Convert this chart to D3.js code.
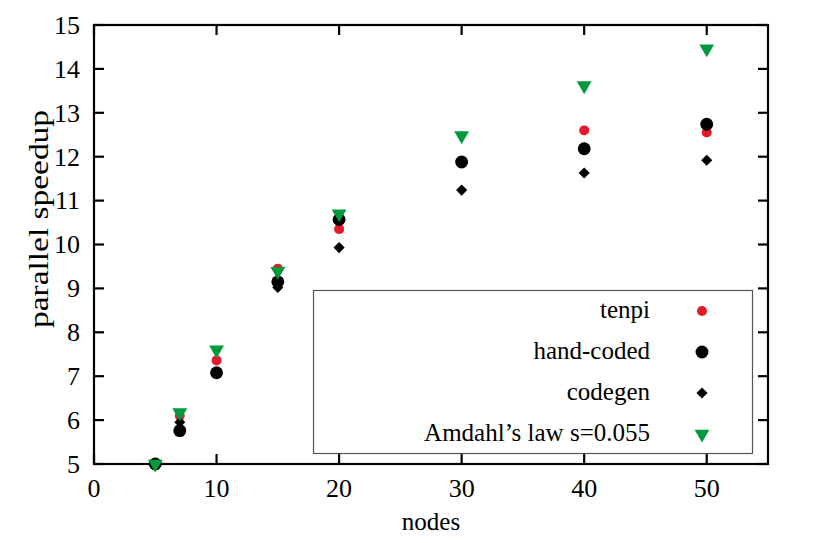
<!DOCTYPE html>
<html>
<head>
<meta charset="utf-8">
<script src="https://cdn.jsdelivr.net/npm/d3@7"></script>
<style>
  body { margin: 0; background: #fff; }
  svg text { font-family: "Liberation Serif", "Times New Roman", serif; fill: #000; }
</style>
</head>
<body>
<svg id="chart" width="814" height="543"></svg>
<script>
// data
var nodes = [5, 7, 10, 15, 20, 30, 40, 50]
var tenpi = [5.0, 6.10, 7.36, 9.45, 10.35, 11.88, 12.60, 12.55]
var handCoded = [5.0, 5.76, 7.08, 9.15, 10.57, 11.88, 12.18, 12.74]
var codegen = [5.0, 5.95, 7.05, 9.02, 9.93, 11.24, 11.63, 11.92]
var amdahl = [5.0, 6.17, 7.60, 9.39, 10.70, 12.48, 13.62, 14.46]
var xTicks = [0, 10, 20, 30, 40, 50]
var yTicks = [5, 6, 7, 8, 9, 10, 11, 12, 13, 14, 15]

var series = [
  { name: 'tenpi', values: tenpi, shape: 'circle', size: 78, color: '#e8192c' },
  { name: 'hand-coded', values: handCoded, shape: 'circle', size: 130, color: '#000' },
  { name: 'codegen', values: codegen, shape: 'diamond', size: 62, color: '#000' },
  { name: 'Amdahl\u2019s law s=0.055', values: amdahl, shape: 'triangle', size: 95, color: '#009a3d' }
]

var margin = { left: 94, right: 46, top: 25, bottom: 79 }
var width = 814, height = 543
var fs = 25
var svg = d3.select('#chart')

var x = d3.scaleLinear().domain([0, 55]).range([margin.left, width - margin.right])
var y = d3.scaleLinear().domain([5, 15]).range([height - margin.bottom, margin.top])

function symbolFor(s) {
  if (s.shape === 'circle') return d3.symbol().type(d3.symbolCircle).size(s.size)
  if (s.shape === 'diamond') return d3.symbol().type(d3.symbolSquare).size(s.size)
  // downward triangle
  return d3.symbol().type(d3.symbolTriangle).size(s.size)
}
function rot(s) {
  if (s.shape === 'diamond') return ' rotate(45)'
  if (s.shape === 'triangle') return ' rotate(180)'
  return ''
}

// axes, ticks mirrored like gnuplot
var tickLen = 10
var axis = svg.append('g').attr('stroke', '#000').attr('stroke-width', 2.2)
axis.append('rect')
  .attr('x', x(0)).attr('y', y(15))
  .attr('width', x(55) - x(0)).attr('height', y(5) - y(15))
  .attr('fill', 'none')

xTicks.forEach(function(t) {
  axis.append('line').attr('x1', x(t)).attr('x2', x(t)).attr('y1', y(5)).attr('y2', y(5) - tickLen)
  axis.append('line').attr('x1', x(t)).attr('x2', x(t)).attr('y1', y(15)).attr('y2', y(15) + tickLen)
})
yTicks.forEach(function(t) {
  axis.append('line').attr('x1', x(0)).attr('x2', x(0) + tickLen).attr('y1', y(t)).attr('y2', y(t))
  axis.append('line').attr('x1', x(55)).attr('x2', x(55) - tickLen).attr('y1', y(t)).attr('y2', y(t))
})

svg.append('g').selectAll('text').data(xTicks).join('text')
  .attr('x', function(d) { return x(d) }).attr('y', y(5) + 33)
  .attr('text-anchor', 'middle').attr('font-size', 26)
  .text(function(d) { return d })

svg.append('g').selectAll('text').data(yTicks).join('text')
  .attr('x', x(0) - 14).attr('y', function(d) { return y(d) + 8.8 })
  .attr('text-anchor', 'end').attr('font-size', 26)
  .text(function(d) { return d })

svg.append('text')
  .attr('x', (x(0) + x(55)) / 2).attr('y', 530)
  .attr('text-anchor', 'middle').attr('font-size', fs)
  .text('nodes')

// the y title is a little stretched along its length in the original
svg.append('text')
  .attr('transform', 'translate(48,219) rotate(-90)')
  .attr('text-anchor', 'middle').attr('font-size', 28)
  .attr('textLength', 218).attr('lengthAdjust', 'spacingAndGlyphs')
  .text('parallel speedup')

// legend box
var lg = svg.append('g')
lg.append('rect')
  .attr('x', 313.5).attr('y', 290.5).attr('width', 439).attr('height', 163)
  .attr('fill', '#fff').attr('stroke', '#555').attr('stroke-width', 1.2)

series.forEach(function(s, i) {
  var ly = 311 + i * 41
  lg.append('text')
    .attr('x', 650).attr('y', ly + 7)
    .attr('text-anchor', 'end').attr('font-size', fs)
    .text(s.name)
  lg.append('path')
    .attr('d', symbolFor(s)())
    .attr('transform', 'translate(702,' + ly + ')' + rot(s))
    .attr('fill', s.color)
})

// points
series.forEach(function(s) {
  svg.append('g').selectAll('path').data(s.values).join('path')
    .attr('d', symbolFor(s)())
    .attr('transform', function(d, i) { return 'translate(' + x(nodes[i]) + ',' + y(d) + ')' + rot(s) })
    .attr('fill', s.color)
})
</script>
</body>
</html>
